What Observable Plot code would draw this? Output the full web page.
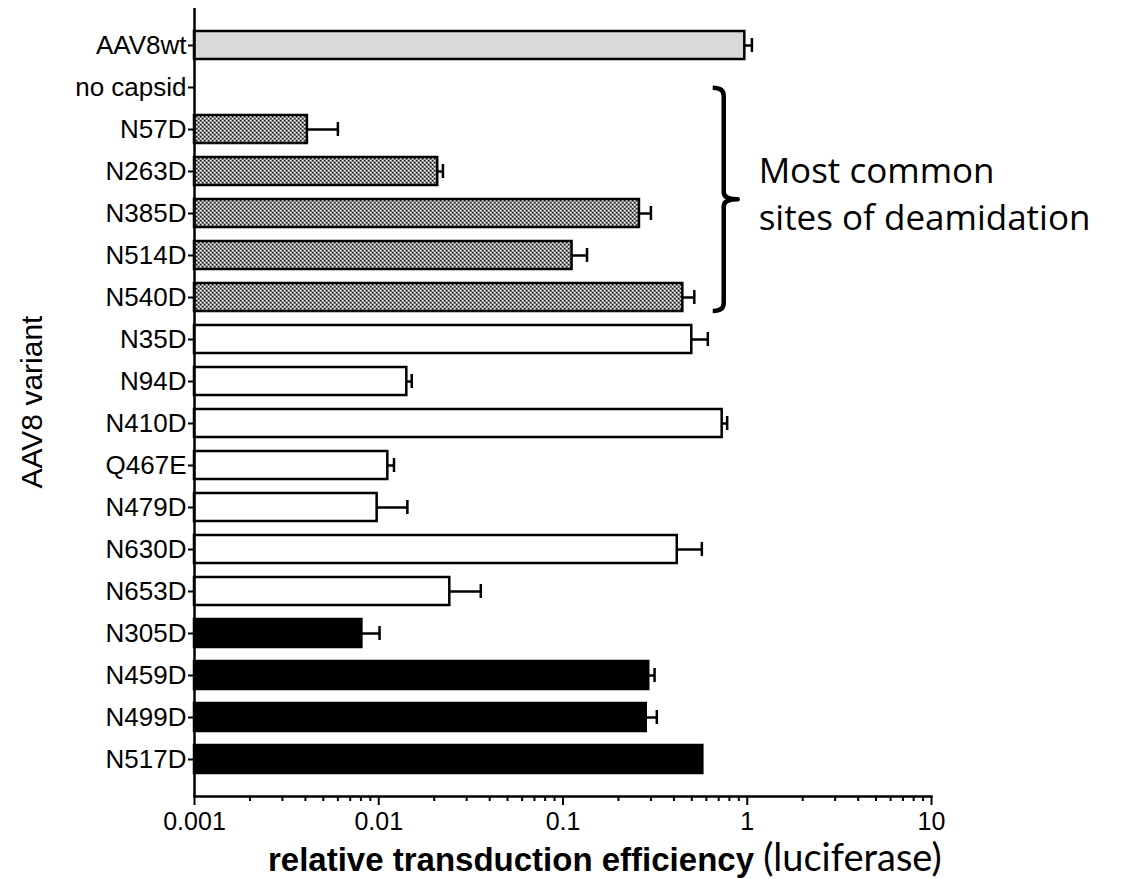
<!DOCTYPE html>
<html><head><meta charset="utf-8">
<script src="https://cdn.jsdelivr.net/npm/d3@7"></script>
<script src="https://cdn.jsdelivr.net/npm/@observablehq/plot@0.6"></script>
<style>body{margin:0;background:#fff} svg{display:block}</style>
</head><body><div id="chart"></div>
<script>
const variants = ["AAV8wt","no capsid","N57D","N263D","N385D","N514D","N540D","N35D","N94D","N410D","Q467E","N479D","N630D","N653D","N305D","N459D","N499D","N517D"];
const values = [0.97, null, 0.0041, 0.0209, 0.26, 0.112, 0.447, 0.50, 0.0142, 0.731, 0.0112, 0.0098, 0.417, 0.0243, 0.0081, 0.292, 0.283, 0.574];
const errorUpper = [1.06, null, 0.0060, 0.0223, 0.30, 0.135, 0.516, 0.611, 0.0151, 0.778, 0.0121, 0.0143, 0.567, 0.0358, 0.0101, 0.314, 0.323, null];
const groups = ["wt","none","common","common","common","common","common","other","other","other","other","other","other","other","black","black","black","black"];
const groupNames = ["wt","none","common","other","black"];
const groupFills = ["#d9d9d9","none","url(#checker)","#ffffff","#000000"];
const majorTicks = [0.001, 0.01, 0.1, 1, 10];
const majorTickLabels = ["0.001","0.01","0.1","1","10"];
const minorTicks = [];
for (const d of [0.001, 0.01, 0.1, 1]) for (let k = 2; k <= 9; k++) minorTicks.push(+(d * k).toPrecision(3));
const xDomain = [0.001, 10];
const annotationLines = ["Most common", "sites of deamidation"];
const bracketFirst = "N57D", bracketLast = "N540D", bracketX = 0.75, annotationX = 1.16;
const yLabel = "AAV8 variant";
const xLabelBold = "relative transduction efficiency";
const xLabelPlain = "(luciferase)";

const data = variants.map((v, i) => ({variant: v, value: values[i], err: errorUpper[i], group: groups[i]}));
const bars = data.filter(d => d.value != null);
const errs = data.filter(d => d.err != null);

const SVGNS = "http://www.w3.org/2000/svg";
function el(tag, attrs, text) {
  const e = document.createElementNS(SVGNS, tag);
  for (const k in attrs) e.setAttribute(k, attrs[k]);
  if (text != null) e.textContent = text;
  return e;
}

function annotations(index, scales, values, dims) {
  const g = el("g", {});
  const y = scales.y, x = scales.x;
  const bw = y.bandwidth(), step = y.step();
  // bracket
  const top = y(bracketFirst) - step * 0.65;
  const bot = y(bracketLast) + bw;
  const mid = (top + bot) / 2;
  const bx = x(bracketX);
  const d = `M${bx - 11},${top} Q${bx},${top} ${bx},${top + 8} L${bx},${mid - 7} Q${bx},${mid} ${bx + 14},${mid} Q${bx},${mid} ${bx},${mid + 7} L${bx},${bot - 8} Q${bx},${bot} ${bx - 11},${bot}`;
  g.appendChild(el("path", {d, fill: "none", stroke: "#000", "stroke-width": 4.5, "stroke-linejoin": "round"}));
  const tx = x(annotationX);
  const t = el("text", {x: tx, y: mid - 16, "text-anchor": "start", "font-family": "'Open Sans', sans-serif", "font-size": 35, fill: "#000"});
  annotationLines.forEach((line, i) => {
    t.appendChild(el("tspan", {x: tx, dy: i === 0 ? "0" : "1.32em"}, line));
  });
  g.appendChild(t);
  // y label
  const cy = (dims.marginTop + dims.height - dims.marginBottom) / 2;
  g.appendChild(el("text", {transform: `translate(${dims.marginLeft - 163},${cy}) rotate(-90)`, "text-anchor": "middle", "dominant-baseline": "central", "font-family": "'Liberation Sans', Arial, sans-serif", "font-size": 30, fill: "#000"}, yLabel));
  // x label
  const lx = x(xDomain[0]) + 74;
  const xl = el("text", {x: lx, y: dims.height - 8, "text-anchor": "start", fill: "#000"});
  xl.appendChild(el("tspan", {"font-family": "'Liberation Sans', Arial, sans-serif", "font-weight": "bold", "font-size": 33}, xLabelBold + " "));
  xl.appendChild(el("tspan", {"font-family": "Lato, 'Open Sans', sans-serif", "font-size": 38}, xLabelPlain));
  g.appendChild(xl);
  return g;
}

const chart = Plot.plot({
  width: 1125,
  height: 879,
  marginTop: 8,
  marginLeft: 194,
  marginRight: 194,
  marginBottom: 83,
  style: {fontFamily: "'Liberation Sans', Arial, sans-serif", color: "#000", background: "#fff"},
  x: {type: "log", domain: xDomain},
  y: {domain: variants, paddingInner: 0.34, paddingOuter: 0.4},
  color: {domain: groupNames, range: groupFills},
  marks: [
    Plot.barX(bars, {x1: xDomain[0], x2: "value", y: "variant", fill: "group", stroke: "#000", strokeWidth: 2.5}),
    Plot.ruleY(errs, {x1: "value", x2: "err", y: "variant", stroke: "#000", strokeWidth: 2.5}),
    Plot.tickX(errs, {x: "err", y: "variant", stroke: "#000", strokeWidth: 2.5, insetTop: 7, insetBottom: 7}),
    Plot.ruleX([xDomain[0]], {stroke: "#000", strokeWidth: 2.5}),
    Plot.frame({anchor: "bottom", stroke: "#000", strokeWidth: 2.5}),
    Plot.axisY({tickSize: 6, tickPadding: 2, fontSize: 26, label: null, strokeWidth: 2}),
    Plot.axisX({ticks: minorTicks, tickSize: 5, tickFormat: () => "", label: null, strokeWidth: 2}),
    Plot.axisX({ticks: majorTicks, tickSize: 9, tickPadding: 7, fontSize: 25, tickFormat: (d) => majorTickLabels[majorTicks.indexOf(d)], label: null, strokeWidth: 2}),
    annotations
  ]
});

const defs = el("defs", {});
const pat = el("pattern", {id: "checker", width: 4, height: 4, patternUnits: "userSpaceOnUse"});
pat.appendChild(el("rect", {width: 4, height: 4, fill: "#a8a8a8"}));
pat.appendChild(el("rect", {x: 0, y: 0, width: 1.5, height: 1.5, fill: "#202020"}));
pat.appendChild(el("rect", {x: 2, y: 2, width: 1.5, height: 1.5, fill: "#202020"}));
pat.appendChild(el("rect", {x: 2, y: 0, width: 1, height: 1, fill: "#ffffff"}));
pat.appendChild(el("rect", {x: 0, y: 2, width: 1, height: 1, fill: "#ffffff"}));
defs.appendChild(pat);
chart.insertBefore(defs, chart.firstChild);
document.getElementById("chart").appendChild(chart);
</script>
</body></html>
